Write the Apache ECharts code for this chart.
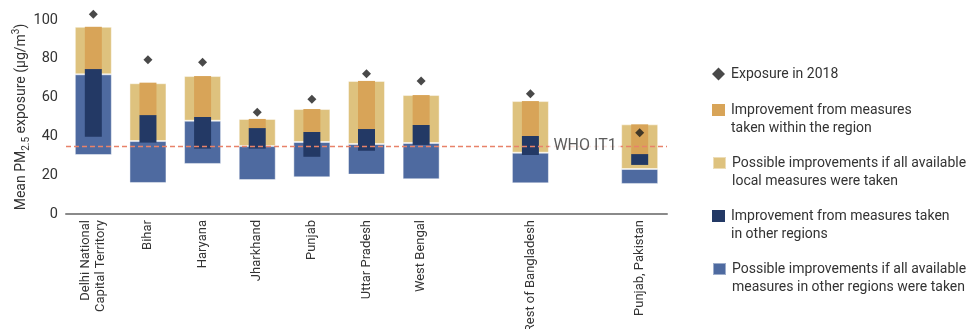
<!DOCTYPE html>
<html><head><meta charset="utf-8">
<script src="https://cdn.jsdelivr.net/npm/echarts@6/dist/echarts.min.js"></script>
<style>html,body{margin:0;padding:0;background:#fff}#c{width:969px;height:329px}</style>
</head><body><div id="c"></div>
<script>
const categories = ['Delhi National\nCapital Territory','Bihar','Haryana','Jharkhand','Punjab','Uttar Pradesh','West Bengal',' ','Rest of Bangladesh','  ','Punjab, Pakistan'];
// outer bar: light blue from outerLow to outerMid, light yellow from outerMid to outerTop
const outerLow = [30.4, 16, 25.8, 17.5, 18.9, 20.3, 17.9, null, 15.8, null, 15.5];
const outerMid = [72, 37.6, 48.1, 35, 37.1, 36.1, 36.6, null, 31.6, null, 23.2];
const outerTop = [96.5, 67.4, 71.1, 49, 54.1, 68.6, 61.3, null, 58.2, null, 46.2];
// inner bar: dark blue from innerLow to innerMid, orange from innerMid to innerTop
const innerLow = [39.8, 36.8, 33.7, 33.7, 29.5, 32.6, 35.6, null, 30.4, null, 25.3];
const innerMid = [74.7, 51, 50, 44.3, 42.3, 43.8, 45.9, null, 40.2, null, 30.9];
const innerTop = [96.5, 67.7, 71.1, 49, 54.1, 68.6, 61.3, null, 58.2, null, 46.2];
const exposure2018 = [103, 79.5, 78.2, 52.4, 59.1, 72.3, 68.6, null, 62, null, 41.9];
const whoIT1 = 35;
const yTicks = [0, 20, 40, 60, 80, 100];

const FONT = "Roboto, 'Open Sans', sans-serif";
const C = {yellow:'#dec27e', orange:'#d8a458', dark:'#233965', blue:'#4e6aa0'};
const diff = (a,b) => a.map((v,i)=> v==null||b[i]==null ? null : +(b[i]-v).toFixed(2));

const names = {
  exp: 'Exposure in 2018',
  orange: 'Improvement from measures\ntaken within the region',
  yellow: 'Possible improvements if all available\nlocal measures were taken',
  dark: 'Improvement from measures taken\nin other regions',
  blue: 'Possible improvements if all available\nmeasures in other regions were taken'
};

const chart = echarts.init(document.getElementById('c'), null, {renderer:'canvas'});
const LH = 18.5;
const legendBase = (name, iconCenter) => ({
  show:true, data:[{name, icon:'rect'}], left:712, top:iconCenter + 3 - 1.5*LH, orient:'vertical', padding:0,
  itemWidth:13, itemHeight:12, itemGap:0, selectedMode:false,
  formatter: n => ' \n' + n,
  textStyle:{fontFamily:FONT, fontSize:14, color:'#333', lineHeight:LH, padding:[0,0,0,1]}
});
chart.setOption({
  animation:false,
  textStyle:{fontFamily:FONT},
  grid:{left:66, right:302, top:20, bottom:115, outerBoundsMode:'none', containLabel:false},
  legend:[
    {show:true, data:[{name:names.exp, icon:'diamond'}], left:712, top:74 - LH/2, padding:0, itemWidth:13, itemHeight:13, selectedMode:false,
      textStyle:{fontFamily:FONT, fontSize:14, color:'#333', lineHeight:LH, padding:[0,0,0,1]}},
    legendBase(names.orange, 107),
    legendBase(names.yellow, 160),
    legendBase(names.dark, 213),
    legendBase(names.blue, 266)
  ],
  xAxis:[
    {type:'category', data:categories, boundaryGap:true,
      axisLine:{lineStyle:{color:'#8a8a8a', width:2}}, axisTick:{show:false},
      axisLabel:{rotate:90, interval:0, fontSize:13, color:'#333', margin:6, lineHeight:15, fontFamily:FONT}},
    {type:'category', data:categories, show:false}
  ],
  yAxis:{type:'value', min:0, max:100, interval:20,
    splitLine:{show:false}, axisLine:{show:false}, axisTick:{show:false},
    axisLabel:{fontSize:14.5, color:'#333', margin:8, fontFamily:FONT, formatter:v=>yTicks.includes(v)?String(v):''},
    name:'{a|Mean PM}{s|2.5}{a| exposure (μg/m}{p|3}{a|)}', nameLocation:'middle', nameGap:35, nameMoveOverlap:false,
    nameTextStyle:{fontFamily:FONT, color:'#333', rich:{
      a:{fontSize:14, fontFamily:FONT, color:'#333', lineHeight:20},
      s:{fontSize:10, fontFamily:FONT, color:'#333', verticalAlign:'bottom', lineHeight:20, padding:[8,0,0,0]},
      p:{fontSize:10, fontFamily:FONT, color:'#333', verticalAlign:'top', lineHeight:20, padding:[0,0,8,0]}
    }}
  },
  series:[
    {type:'bar', xAxisIndex:0, stack:'outer', barWidth:37, data:outerLow, itemStyle:{color:'transparent'}, silent:true},
    {type:'bar', xAxisIndex:0, stack:'outer', barWidth:37, name:names.blue, data:diff(outerLow, outerMid), itemStyle:{color:C.blue, borderColor:'rgba(255,255,255,0.45)', borderWidth:1}},
    {type:'bar', xAxisIndex:0, stack:'outer', barWidth:37, name:names.yellow, data:diff(outerMid, outerTop), itemStyle:{color:C.yellow, borderColor:'rgba(255,255,255,0.45)', borderWidth:1}},
    {type:'bar', xAxisIndex:1, stack:'inner', barWidth:17, data:innerLow, itemStyle:{color:'transparent'}, silent:true},
    {type:'bar', xAxisIndex:1, stack:'inner', barWidth:17, name:names.dark, data:diff(innerLow, innerMid), itemStyle:{color:C.dark}},
    {type:'bar', xAxisIndex:1, stack:'inner', barWidth:17, name:names.orange, data:diff(innerMid, innerTop), itemStyle:{color:C.orange},
      markLine:{silent:true, symbol:'none', label:{show:false}, lineStyle:{color:'#e8826a', type:[5,3], width:1.3},
        data:[{yAxis:whoIT1}]}},
    {type:'scatter', xAxisIndex:0, name:names.exp, symbol:'diamond', symbolSize:9, clip:false, data:exposure2018, itemStyle:{color:'#1c1c1c'}, z:5},
    {type:'scatter', xAxisIndex:0, symbolSize:0, clip:false, silent:true, z:6,
      data:[[9, whoIT1]],
      label:{show:true, position:'inside', formatter:'WHO IT1', fontFamily:FONT, fontSize:16, color:'#333', backgroundColor:'#fff', padding:[1,4]}}
  ]
});
</script></body></html>
